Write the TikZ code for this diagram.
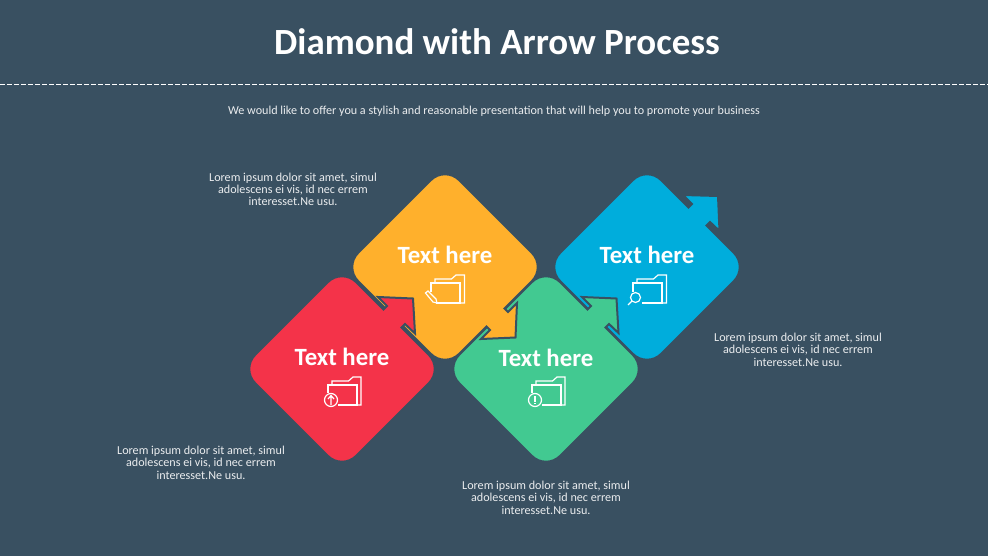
\documentclass[tikz,border=0pt]{standalone}
\usepackage{fontspec}
\setmainfont{Carlito}
\usepackage{tikz}

\definecolor{slate}{RGB}{57,80,97}
\definecolor{redfill}{RGB}{244,51,73}
\definecolor{orangefill}{RGB}{255,176,44}
\definecolor{greenfill}{RGB}{66,201,145}
\definecolor{bluefill}{RGB}{0,173,220}

\tikzset{
  diamondbox/.style={draw=slate,line width=1.5pt,line join=miter,miter limit=10},
  iconline/.style={draw=white,line width=0.9pt,line join=miter},
  headtext/.style={text=white,font=\fontsize{18.6}{22}\selectfont\bfseries,inner sep=0.75pt},
  bodytext/.style={text=white!90!slate,font=\fontsize{9.1}{9.25}\selectfont,align=center,inner sep=0.75pt},
}

\begin{document}
\begin{tikzpicture}[x=0.75pt,y=0.75pt,yscale=-1]
\useasboundingbox (0,0) rectangle (988,556);
\fill[slate] (0,0) rectangle (988,556);

%Dashed rule
\coordinate (ruleL) at (0,84.5);
\coordinate (ruleR) at (988,84.5);
\draw [white,line width=0.6pt,dash pattern=on 3.9pt off 1.35pt] (ruleL) -- (ruleR);

%Shape: Blue diamond
\path [diamondbox,fill=bluefill] (706.5,225.5) [rounded corners=15pt] -- (748,267) -- (647,368) -- (546,267) -- (647,166) [sharp corners] -- (688.5,207.5) -- (692,204) -- (683,195) -- (718,196) -- (719.5,231) -- (710,222) -- cycle ;
%Shape: Green diamond
\path [diamondbox,fill=greenfill] (605.5,327.5) [rounded corners=15pt] -- (647,369) -- (546,470) -- (445,369) -- (546,268) [sharp corners] -- (587.5,309.5) -- (591,306) -- (582,297) -- (616.5,298.5) -- (618.5,333) -- (609,324) -- cycle ;
%Shape: Orange diamond
\path [diamondbox,fill=orangefill] (486.5,326.5) [rounded corners=15pt] -- (445,368) -- (344,267) -- (445,166) -- (546,267) [sharp corners] -- (504.5,308.5) -- (508,312) -- (517,303) -- (515.5,337.5) -- (481,339) -- (490,330) -- cycle ;
%Shape: Red diamond
\path [diamondbox,fill=redfill] (401.5,327.5) [rounded corners=15pt] -- (443,369) -- (342,470) -- (241,369) -- (342,268) [sharp corners] -- (383.5,309.5) -- (387,306) -- (378,297) -- (413,298.5) -- (415,333.5) -- (405,324) -- cycle ;

%Folder: Orange, pencil
\draw [iconline] (431,292) -- (431,283) -- (460,283) -- (460,303) -- (436,303) ;
\draw [iconline] (435,283) -- (435,279) -- (451.5,279) -- (456,275) -- (464.5,275) -- (464.5,303) -- (460,303) ;
\draw [iconline] (425.5,293) -- (428,291) -- (436,299) -- (437,303) -- (433,302) -- cycle ;
%Folder: Blue, magnifier
\draw [iconline] (633,292) -- (633,283) -- (662,283) -- (662,303) -- (642,303) ;
\draw [iconline] (637,283) -- (637,279) -- (653.5,279) -- (658,275) -- (666.5,275) -- (666.5,303) -- (662,303) ;
\draw [iconline] (635.5,297.5) circle [radius=5] ;
\draw [iconline] (632,301) -- (628,305) ;
%Folder: Red, up arrow
\draw [iconline] (328,393) -- (328,385) -- (357,385) -- (357,405) -- (338,405) ;
\draw [iconline] (332,385) -- (332,381) -- (348.5,381) -- (353,377) -- (361,377) -- (361,405) -- (357,405) ;
\draw [iconline] (331,400) circle [radius=6.5] ;
\draw [iconline] (331,405) -- (331,396.5) (328,399) -- (331,395.5) -- (334,399) ;
%Folder: Green, exclamation
\draw [iconline] (532,393) -- (532,385) -- (561,385) -- (561,405) -- (542,405) ;
\draw [iconline] (536,385) -- (536,381) -- (552.5,381) -- (557,377) -- (565,377) -- (565,405) -- (561,405) ;
\draw [iconline] (535,400) circle [radius=6.5] ;
\draw [iconline,line width=1pt] (535,396) -- (535,401.5) (535,403) -- (535,404.2) ;

% Text Node
\node [text=white,font=\fontsize{27.7}{32}\selectfont\bfseries,inner sep=0.75pt] (title) at (497,42) {Diamond with Arrow Process};
% Text Node
\node [text=white!90!slate,font=\fontsize{9.1}{11}\selectfont,inner sep=0.75pt] (subtitle) at (494,111) {We would like to offer you a stylish and reasonable presentation that will help you to promote your business};
% Text Node
\node [headtext] (headOrange) at (445,255) {Text here};
% Text Node
\node [headtext] (headBlue) at (647,255) {Text here};
% Text Node
\node [headtext] (headRed) at (342,357) {Text here};
% Text Node
\node [headtext] (headGreen) at (546,358) {Text here};
% Text Node
\node [bodytext] (textOrange) at (293,189.5) {Lorem ipsum dolor sit amet, simul\\adolescens ei vis, id nec errem\\interesset.Ne usu.};
% Text Node
\node [bodytext] (textBlue) at (798,349.5) {Lorem ipsum dolor sit amet, simul\\adolescens ei vis, id nec errem\\interesset.Ne usu.};
% Text Node
\node [bodytext] (textRed) at (201,462.5) {Lorem ipsum dolor sit amet, simul\\adolescens ei vis, id nec errem\\interesset.Ne usu.};
% Text Node
\node [bodytext] (textGreen) at (546,497.5) {Lorem ipsum dolor sit amet, simul\\adolescens ei vis, id nec errem\\interesset.Ne usu.};

\end{tikzpicture}
\end{document}
